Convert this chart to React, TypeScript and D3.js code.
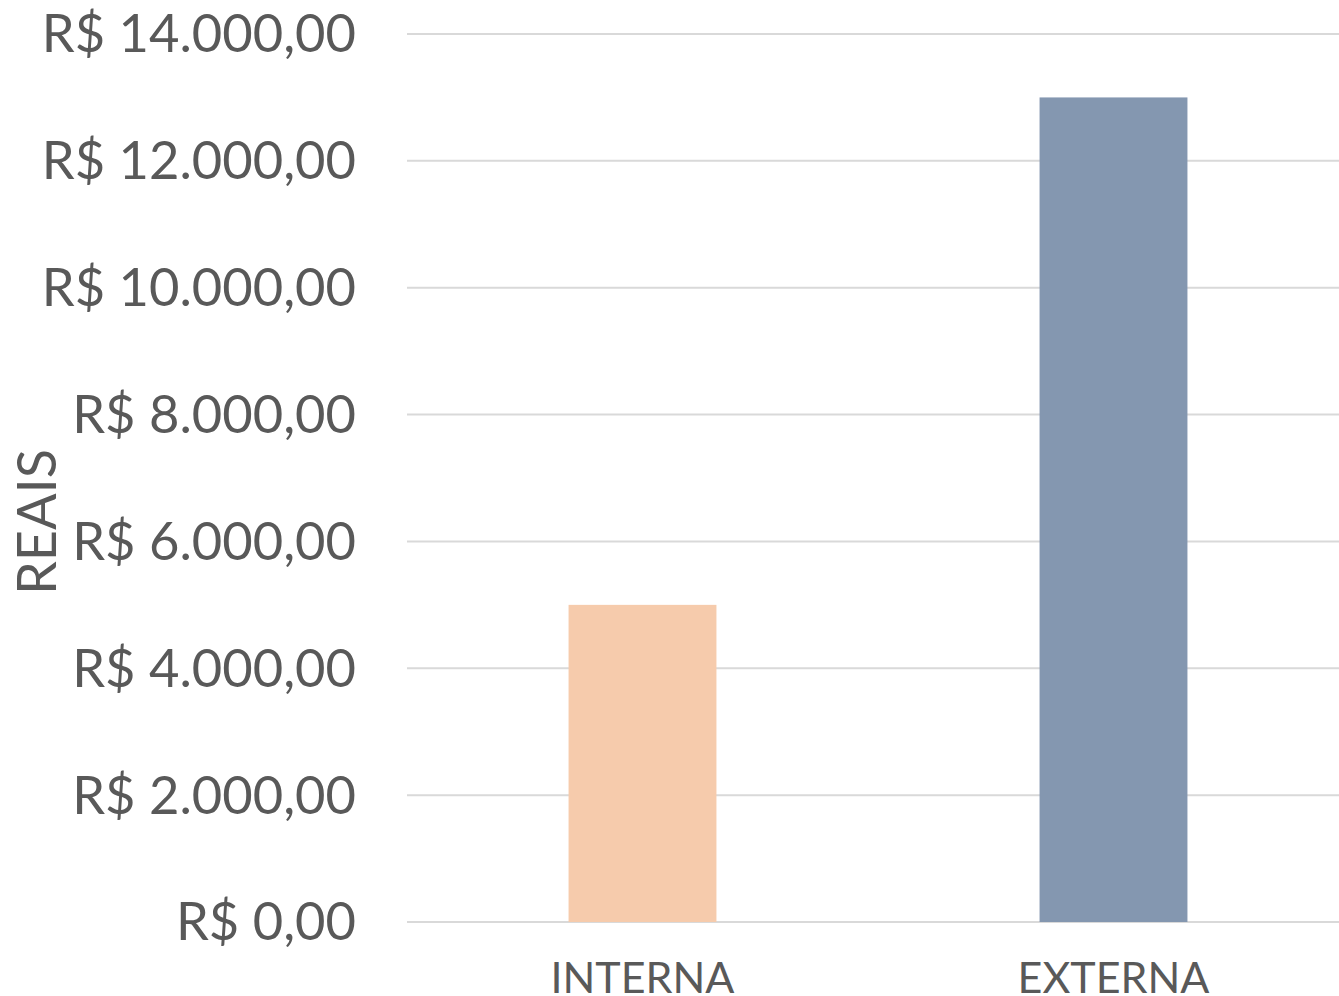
import { useEffect, useRef } from 'react'
import * as d3 from 'd3'

const categories = ['INTERNA', 'EXTERNA']
const values = [5000, 13000]
const barColors = ['#f6cbac', '#8497b0']
const yTicks = [0, 2000, 4000, 6000, 8000, 10000, 12000, 14000]

const formatBRL = (v: number) => {
  const s = d3.format(',.2f')(v)
  // swap separators to pt-BR style
  return 'R$ ' + s.replace(/,/g, '#').replace('.', ',').replace(/#/g, '.')
}

export default function App() {
  const svgRef = useRef<SVGSVGElement>(null)
  const width = 1339
  const height = 996

  useEffect(() => {
    if (!svgRef.current) return
    const svg = d3.select(svgRef.current)
    svg.selectAll('*').remove()

    const left = 407
    const right = 1349 // plot area runs past the right edge of the picture
    const top = 34
    const bottom = 922

    const x = d3.scaleBand().domain(categories).range([left, right]).paddingInner(0.686).paddingOuter(0.343)
    const y = d3.scaleLinear().domain([0, 14000]).range([bottom, top])

    const font = 'Lato, sans-serif'

    svg
      .append('g')
      .selectAll('line')
      .data(yTicks)
      .enter()
      .append('line')
      .attr('x1', left)
      .attr('x2', width)
      .attr('y1', (d) => y(d))
      .attr('y2', (d) => y(d))
      .style('stroke', '#d9d9d9')
      .style('stroke-width', '2px')

    svg
      .append('g')
      .selectAll('text')
      .data(yTicks)
      .enter()
      .append('text')
      .attr('x', 356)
      .attr('y', (d) => y(d))
      .attr('dy', '0.35em')
      .attr('text-anchor', 'end')
      .style('font-family', font)
      .style('font-size', '52.5px')
      .style('fill', '#595959')
      .text((d) => formatBRL(d))

    svg
      .append('g')
      .selectAll('rect')
      .data(values)
      .enter()
      .append('rect')
      .attr('x', (d, i) => x(categories[i])!)
      .attr('width', x.bandwidth())
      .attr('y', (d) => y(d))
      .attr('height', (d) => bottom - y(d))
      .style('fill', (d, i) => barColors[i])

    svg
      .append('g')
      .selectAll('text')
      .data(categories)
      .enter()
      .append('text')
      .attr('x', (d) => x(d)! + x.bandwidth() / 2)
      .attr('y', 993)
      .attr('text-anchor', 'middle')
      .style('font-family', font)
      .style('font-size', '43px')
      .style('fill', '#595959')
      .text((d) => d)

    svg
      .append('text')
      .attr('transform', `translate(56,${(top + bottom) / 2 + 44}) rotate(-90)`)
      .attr('text-anchor', 'middle')
      .style('font-family', font)
      .style('font-size', '54px')
      .style('fill', '#595959')
      .text('REAIS')
  }, [])

  return (
    <svg
      ref={svgRef}
      width={width}
      height={height}
      style={{ position: 'absolute', left: 0, top: 0, background: '#fff' }}
    />
  )
}
